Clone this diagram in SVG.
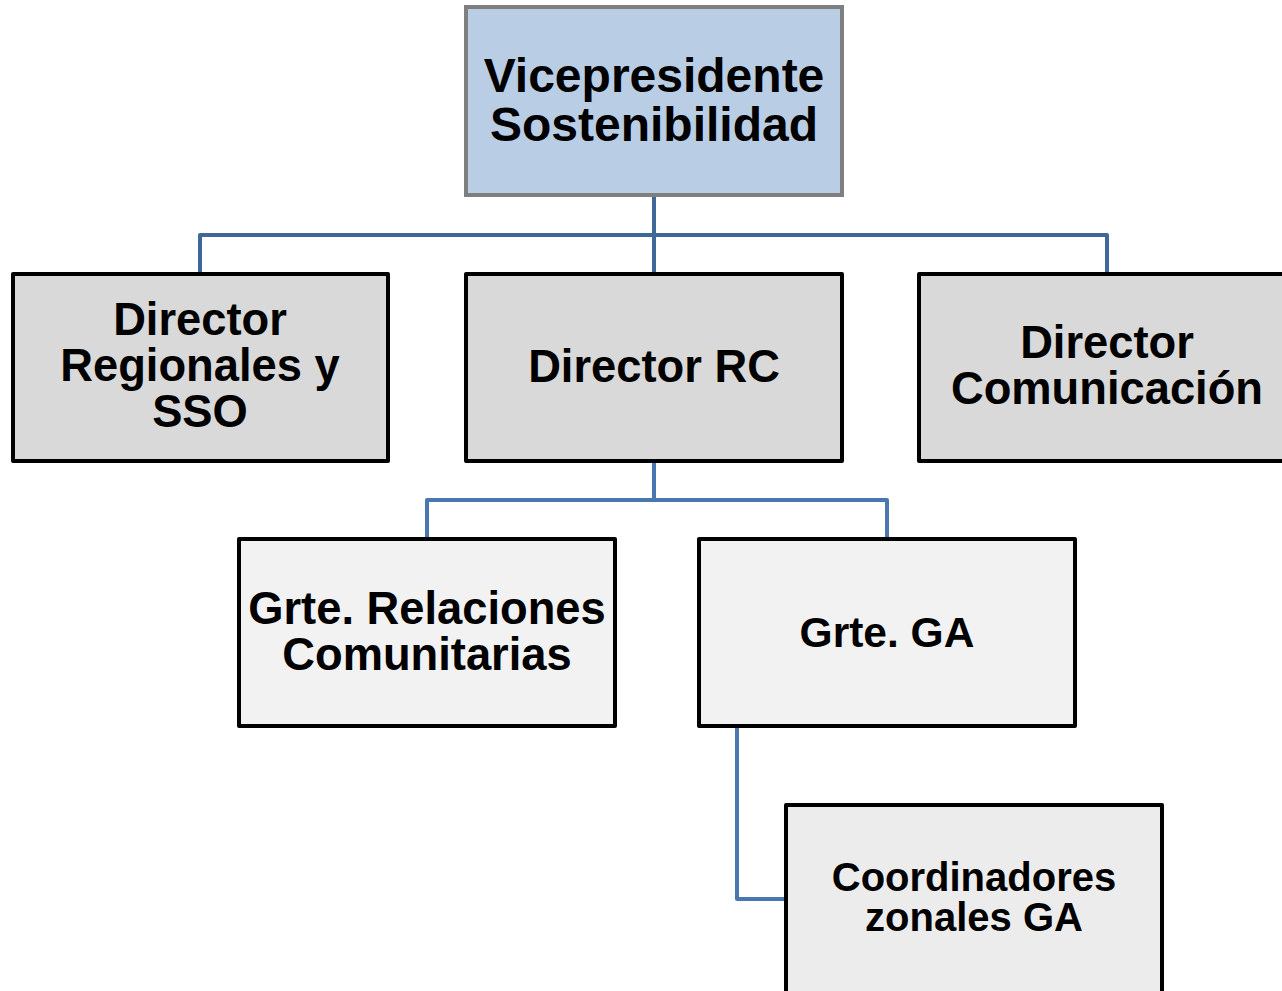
<svg xmlns="http://www.w3.org/2000/svg" width="1282" height="991" viewBox="0 0 1282 991">
<style>
.box{stroke:#000;stroke-width:4;stroke-linejoin:round}
.l1{fill:#d9d9d9}
.l2{fill:#f2f2f2}
.l3{fill:#ececec}
.top{fill:#b9cde5;stroke:#7f7f7f;stroke-width:4}
.t{font-family:"Liberation Sans",Arial,sans-serif;font-weight:bold;fill:#000;text-anchor:middle}
.c{fill:none;stroke-width:4;stroke-linejoin:round}
.c1{stroke:#3f6797}
.c2{stroke:#4a77b0}
</style>
<g id="connectors">
<path class="c c1" d="M654 196V273M200 273V235H1107V273"/>
<path class="c c2" d="M654 462V500H427V539M654 500H887V539"/>
<path class="c c2" d="M737 728V899H786"/>
</g>
<g id="vp">
<rect class="top" x="466" y="7" width="376" height="188"/>
<text class="t" x="654" y="92" font-size="48">Vicepresidente</text>
<text class="t" x="654" y="141" font-size="48">Sostenibilidad</text>
</g>
<g id="dir-regionales">
<rect class="box l1" x="13" y="274" width="375" height="187"/>
<text class="t" x="200" y="335" font-size="45.3">Director</text>
<text class="t" x="200" y="381" font-size="45.3">Regionales y</text>
<text class="t" x="200" y="427" font-size="45.3">SSO</text>
</g>
<g id="dir-rc">
<rect class="box l1" x="466" y="274" width="376" height="187"/>
<text class="t" x="654" y="382" font-size="45.3">Director RC</text>
</g>
<g id="dir-comunicacion">
<rect class="box l1" x="919" y="274" width="376" height="187"/>
<text class="t" x="1107" y="358" font-size="45.3">Director</text>
<text class="t" x="1107" y="404" font-size="45.3">Comunicación</text>
</g>
<g id="grte-rc">
<rect class="box l2" x="239" y="539" width="376" height="187"/>
<text class="t" x="427" y="624" font-size="45.3">Grte. Relaciones</text>
<text class="t" x="427" y="670" font-size="45.3">Comunitarias</text>
</g>
<g id="grte-ga">
<rect class="box l2" x="699" y="539" width="376" height="187"/>
<text class="t" x="887" y="647" font-size="42.5">Grte. GA</text>
</g>
<g id="coord">
<rect class="box l3" x="786" y="805" width="376" height="200"/>
<text class="t" x="974" y="891" font-size="40">Coordinadores</text>
<text class="t" x="974" y="931" font-size="40">zonales GA</text>
</g>
</svg>
